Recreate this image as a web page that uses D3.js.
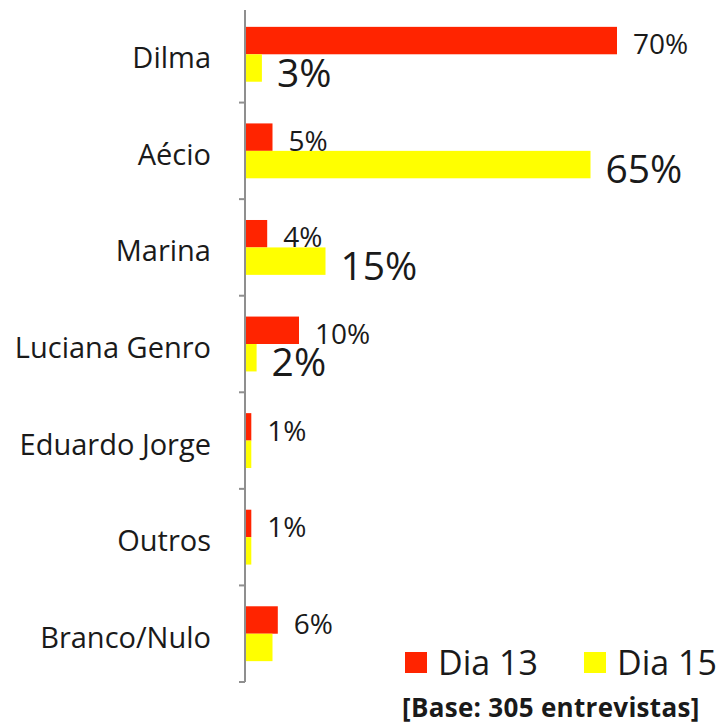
<!DOCTYPE html>
<html>
<head>
<meta charset="utf-8">
<script src="https://cdn.jsdelivr.net/npm/d3@7"></script>
<style>
  body { margin: 0; background: #fff; }
  svg text { font-family: "Open Sans", sans-serif; fill: #1a1a1a; }
</style>
</head>
<body>
<div class="chart"></div>
<script>
var categories = ['Dilma', 'Aécio', 'Marina', 'Luciana Genro', 'Eduardo Jorge', 'Outros', 'Branco/Nulo'];
var dia13 = [70, 5, 4, 10, 1, 1, 6];
var dia15 = [3, 65, 15, 2, 1, 1, 5];
// the picture only prints the Dia 15 figure for the first four rows
var dia15Shown = [true, true, true, true, false, false, false];
var seriesNames = ['Dia 13', 'Dia 15'];
var colors = ['#ff2400', '#ffff00'];
var baseText = '[Base: 305 entrevistas]';

var svg = d3.select('.chart')
  .append('svg')
  .attr('width', 721)
  .attr('height', 724);

var x = d3.scaleLinear().domain([0, 100]).range([246, 776]);

var y0 = d3.scaleBand().domain(categories).range([6, 682]);
var y1 = d3.scaleBand().domain([0, 1]).range([0, y0.bandwidth()]).paddingOuter(0.76);

// axis line and the ticks between categories
svg.append('line')
  .attr('x1', 245).attr('x2', 245)
  .attr('y1', 10).attr('y2', 682)
  .attr('stroke', '#8f8f8f')
  .attr('stroke-width', 2);

svg.selectAll('.tick-mark')
  .data(categories)
  .enter().append('line')
  .attr('class', 'tick-mark')
  .attr('x1', 239).attr('x2', 245)
  .attr('y1', function(d){ return y0(d) + y0.step(); })
  .attr('y2', function(d){ return y0(d) + y0.step(); })
  .attr('stroke', '#8f8f8f')
  .attr('stroke-width', 2);

// category labels
var yAxis = d3.axisLeft(y0).tickSize(0).tickPadding(34);
var g = svg.append('g').attr('transform', 'translate(245,0)').call(yAxis);
g.select('.domain').remove();
g.selectAll('text')
  .attr('dy', null)
  .attr('y', 14)
  .style('font-size', '29px')
  .style('font-family', '"Open Sans", sans-serif')
  .attr('fill', '#1a1a1a');

var rows = categories.map(function(c, i){
  return { cat: c, vals: [dia13[i], dia15[i]], shown: [true, dia15Shown[i]] };
});

var groups = svg.selectAll('.row')
  .data(rows)
  .enter().append('g')
  .attr('class', 'row')
  .attr('transform', function(d){ return 'translate(0,' + y0(d.cat) + ')'; });

groups.selectAll('rect')
  .data(function(d){ return d.vals; })
  .enter().append('rect')
  .attr('x', x(0))
  .attr('y', function(d, i){ return y1(i); })
  .attr('width', function(d){ return x(d) - x(0); })
  .attr('height', y1.bandwidth())
  .attr('fill', function(d, i){ return colors[i]; });

// red labels sit on the bar boundary, yellow labels are bigger
groups.selectAll('.val')
  .data(function(d){
    return d.vals.map(function(v, i){ return { v: v, i: i, show: d.shown[i] }; })
      .filter(function(o){ return o.show; });
  })
  .enter().append('text')
  .attr('class', 'val')
  .attr('x', function(d){ return x(d.v) + (d.i == 0 ? 16 : 15); })
  .attr('y', function(d){ return y1(d.i) + y1.bandwidth() + (d.i == 0 ? 0 : 5); })
  .style('font-size', function(d){ return d.i == 0 ? '28px' : '39px'; })
  .text(function(d){ return d.v + '%'; });

// legend
var legend = svg.selectAll('.legend')
  .data(seriesNames)
  .enter().append('g')
  .attr('class', 'legend')
  .attr('transform', function(d, i){ return 'translate(' + (405 + i * 179) + ',0)'; });

legend.append('rect')
  .attr('x', 0).attr('y', 652)
  .attr('width', 22).attr('height', 21)
  .attr('fill', function(d, i){ return colors[i]; });

legend.append('text')
  .attr('x', 33).attr('y', 675)
  .style('font-size', '34px')
  .text(function(d){ return d; });

svg.append('text')
  .attr('x', 402).attr('y', 717)
  .style('font-size', '26px')
  .style('font-weight', 'bold')
  .style('letter-spacing', '0.3px')
  .text(baseText);
</script>
</body>
</html>
